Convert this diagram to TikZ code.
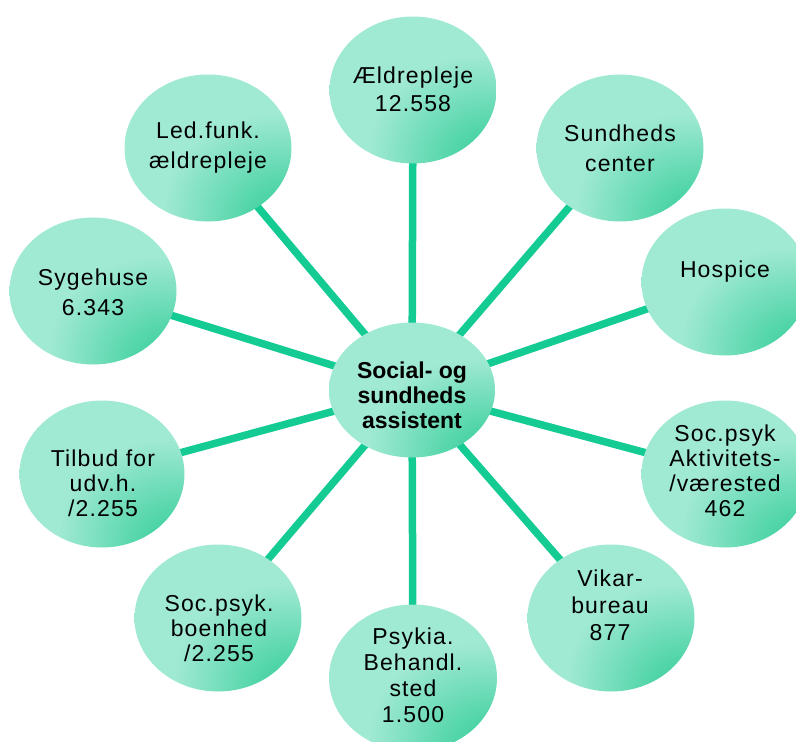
\documentclass[tikz,border=0pt]{standalone}
\usepackage{fontspec}
\setmainfont{Liberation Sans}
\newfontfamily\spacedsans[LetterSpace=5]{Liberation Sans}
\usetikzlibrary{shapes.geometric}
\definecolor{mintlt}{HTML}{A0E9D3}
\definecolor{mintdk}{HTML}{2ECC96}
\definecolor{spoke}{HTML}{14CB94}
\pgfdeclareradialshading{mintshade}{\pgfpoint{28bp}{-30bp}}{color(0bp)=(mintdk); color(10bp)=(mintdk!80!mintlt); color(32bp)=(mintlt); color(100bp)=(mintlt)}
\pgfdeclarelayer{bg}
\pgfsetlayers{bg,main}
\tikzset{
  bubble/.style={ellipse, shading=mintshade, inner sep=0pt,
    minimum width=167pt, minimum height=147pt},
  lbl/.style={inner sep=0pt, align=center, text=black,
    font=\spacedsans\fontsize{23}{#1}\selectfont},
  lbl/.default=28,
  spokeline/.style={line width=7.5pt, draw=spoke}
}
\begin{document}
\begin{tikzpicture}[x=1pt,y=-1pt]
\useasboundingbox (0,0) rectangle (796,742);
\clip (0,0) rectangle (796,742);
\node[bubble, minimum width=166pt, minimum height=135pt] (b0) at (412,390) {};
\node[bubble] (b1) at (413,90) {};
\node[bubble] (b2) at (620,148) {};
\node[bubble] (b3) at (725,282) {};
\node[bubble] (b4) at (725,474) {};
\node[bubble] (b5) at (611,618) {};
\node[bubble, minimum width=168pt] (b6) at (413,678) {};
\node[bubble] (b7) at (218,618) {};
\node[bubble, minimum width=165pt] (b8) at (102,474) {};
\node[bubble] (b9) at (93,291) {};
\node[bubble] (b10) at (208,148) {};
\begin{pgfonlayer}{bg}
\foreach \i in {1,...,10} \draw[spokeline] (b0.center) -- (b\i.center);
\end{pgfonlayer}
\node[inner sep=0pt, align=center, font=\fontsize{23}{25}\selectfont\bfseries] (t0) at (412,395) {Social- og\\sundheds\\assistent};
\node[lbl=28] (t1) at (413,89) {Ældrepleje\\12.558};
\node[lbl=30] (t2) at (620,148) {Sundheds\\center};
\node[lbl] (t3) at (725,272) {Hospice};
\node[lbl=25] (t4) at (725,471) {Soc.psyk\\Aktivitets-\\/værested\\462};
\node[lbl=27] (t5) at (610,605) {Vikar-\\bureau\\877};
\node[lbl=26] (t6) at (413,675) {Psykia.\\Behandl.\\sted\\1.500};
\node[lbl=25] (t7) at (219,628) {Soc.psyk.\\boenhed\\/2.255};
\node[lbl=25] (t8) at (103,483) {Tilbud for\\udv.h.\\/2.255};
\node[lbl=30] (t9) at (93,292) {Sygehuse\\6.343};
\node[lbl=30] (t10) at (208,148) {Led.funk.\\ældrepleje};
\end{tikzpicture}
\end{document}
